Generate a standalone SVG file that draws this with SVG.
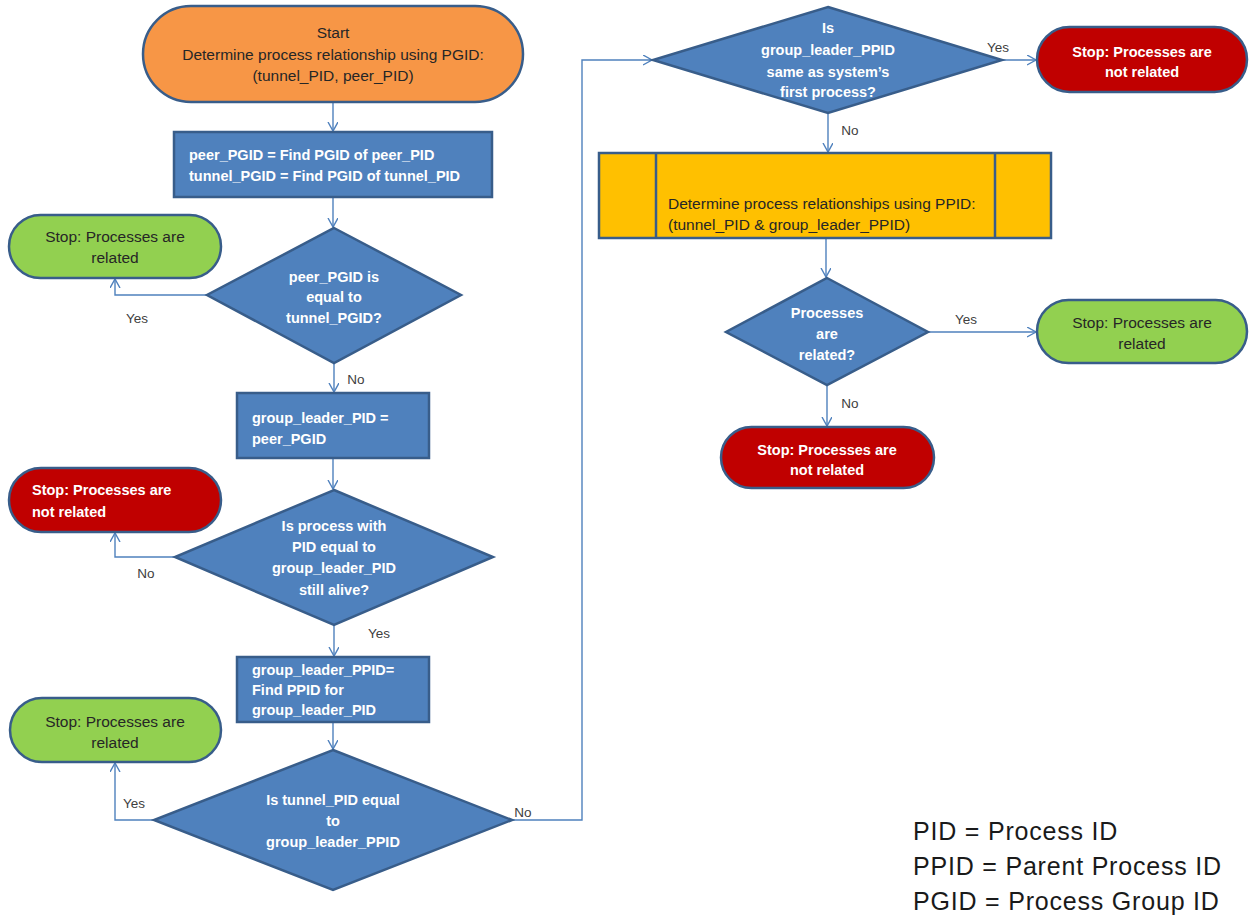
<svg xmlns="http://www.w3.org/2000/svg" width="1252" height="922" viewBox="0 0 1252 922">
<defs>
<marker id="arr" markerUnits="userSpaceOnUse" markerWidth="12" markerHeight="12" refX="9" refY="5" orient="auto">
<path d="M0,0 L9,5 L0,10" fill="none" stroke="#4F81BD" stroke-width="1.4"/>
</marker>
<style>
.blue{fill:#4F81BD;stroke:#385D8A;stroke-width:2.5}
.orange{fill:#F79646;stroke:#385D8A;stroke-width:2.5}
.green{fill:#92D050;stroke:#385D8A;stroke-width:2.5}
.red{fill:#C00000;stroke:#385D8A;stroke-width:2.5}
.yellow{fill:#FFC000;stroke:#385D8A;stroke-width:2.5}
.conn{fill:none;stroke:#4F81BD;stroke-width:1.4;marker-end:url(#arr)}
text{font-family:"Liberation Sans",Arial,sans-serif;font-size:14.5px}
.w{fill:#FFFFFF;font-weight:bold}
.d{fill:#262626;font-size:15.5px}
.c{text-anchor:middle}
.lbl{fill:#404040;font-size:13.5px;text-anchor:middle}
.leg{fill:#1A1A1A;font-size:25px;letter-spacing:0.8px}
</style>
</defs>

<g id="connectors">
<path class="conn" d="M333,102 L333,131"/>
<path class="conn" d="M333,197 L333,227"/>
<path class="conn" d="M207,295 L115,295 L115,279"/>
<path class="conn" d="M334,363 L334,392"/>
<path class="conn" d="M333,458 L333,489"/>
<path class="conn" d="M175,557 L115,557 L115,533"/>
<path class="conn" d="M334,625 L334,656"/>
<path class="conn" d="M333,722 L333,749"/>
<path class="conn" d="M154,820 L115,820 L115,763"/>
<path class="conn" d="M512,820 L582,820 L582,60 L652,60"/>
<path class="conn" d="M1002,60 L1036,60"/>
<path class="conn" d="M828,113 L828,152"/>
<path class="conn" d="M826,238 L826,277"/>
<path class="conn" d="M928,332 L1036,332"/>
<path class="conn" d="M827,385 L827,426"/>
<text class="lbl" x="137" y="323">Yes</text>
<text class="lbl" x="356" y="384">No</text>
<text class="lbl" x="146" y="578">No</text>
<text class="lbl" x="379" y="638">Yes</text>
<text class="lbl" x="134" y="808">Yes</text>
<text class="lbl" x="523" y="817">No</text>
<text class="lbl" x="998" y="52">Yes</text>
<text class="lbl" x="850" y="135">No</text>
<text class="lbl" x="966" y="324">Yes</text>
<text class="lbl" x="850" y="408">No</text>
</g>

<g id="start">
<rect class="orange" x="143" y="6" width="380" height="96" rx="48" ry="48"/>
<text class="d c" x="333" y="38">Start</text>
<text class="d c" x="333" y="60">Determine process relationship using PGID:</text>
<text class="d c" x="333" y="81">(tunnel_PID, peer_PID)</text>
</g>

<g id="find-pgid">
<rect class="blue" x="174" y="132" width="318" height="65"/>
<text class="w" x="189" y="160">peer_PGID = Find PGID of peer_PID</text>
<text class="w" x="189" y="181">tunnel_PGID = Find PGID of tunnel_PID</text>
</g>

<g id="pgid-equal">
<polygon class="blue" points="334,228 461,295 334,363 207,295"/>
<text class="w c" x="334" y="282">peer_PGID is</text>
<text class="w c" x="334" y="302">equal to</text>
<text class="w c" x="334" y="323">tunnel_PGID?</text>
</g>

<g id="stop-related-1">
<rect class="green" x="9" y="215" width="212" height="63" rx="31.5" ry="31.5"/>
<text class="d c" x="115" y="242">Stop: Processes are</text>
<text class="d c" x="115" y="263">related</text>
</g>

<g id="group-leader">
<rect class="blue" x="237" y="393" width="192" height="65"/>
<text class="w" x="252" y="423">group_leader_PID =</text>
<text class="w" x="252" y="444">peer_PGID</text>
</g>

<g id="alive">
<polygon class="blue" points="334,490 493,557 334,625 175,557"/>
<text class="w c" x="334" y="531">Is process with</text>
<text class="w c" x="334" y="552">PID  equal to</text>
<text class="w c" x="334" y="573">group_leader_PID</text>
<text class="w c" x="334" y="595">still alive?</text>
</g>

<g id="stop-not-related-1">
<rect class="red" x="9" y="468" width="212" height="64" rx="32" ry="32"/>
<text class="w" x="32" y="495">Stop: Processes are</text>
<text class="w" x="32" y="517">not related</text>
</g>

<g id="find-ppid">
<rect class="blue" x="237" y="657" width="192" height="65"/>
<text class="w" x="252" y="675">group_leader_PPID=</text>
<text class="w" x="252" y="695">Find PPID for</text>
<text class="w" x="252" y="715">group_leader_PID</text>
</g>

<g id="tunnel-equal">
<polygon class="blue" points="333,750 512,820 333,890 154,820"/>
<text class="w c" x="333" y="805">Is tunnel_PID equal</text>
<text class="w c" x="333" y="826">to</text>
<text class="w c" x="333" y="847">group_leader_PPID</text>
</g>

<g id="stop-related-2">
<rect class="green" x="10" y="698" width="211" height="64" rx="32" ry="32"/>
<text class="d c" x="115" y="727">Stop: Processes are</text>
<text class="d c" x="115" y="748">related</text>
</g>

<g id="first-process">
<polygon class="blue" points="828,7 1002,60 828,113 653,60"/>
<text class="w c" x="828" y="33">Is</text>
<text class="w c" x="828" y="55">group_leader_PPID</text>
<text class="w c" x="828" y="77">same as system’s</text>
<text class="w c" x="828" y="97">first process?</text>
</g>

<g id="stop-not-related-2">
<rect class="red" x="1037" y="27" width="210" height="65" rx="32.5" ry="32.5"/>
<text class="w c" x="1142" y="57">Stop: Processes are</text>
<text class="w c" x="1142" y="77">not related</text>
</g>

<g id="ppid-relationship">
<rect class="yellow" x="599" y="153" width="452" height="85"/>
<line x1="656" y1="153" x2="656" y2="238" stroke="#385D8A" stroke-width="2.5"/>
<line x1="995" y1="153" x2="995" y2="238" stroke="#385D8A" stroke-width="2.5"/>
<text class="d" x="668" y="209">Determine process relationships using PPID:</text>
<text class="d" x="668" y="230">(tunnel_PID &amp; group_leader_PPID)</text>
</g>

<g id="processes-related">
<polygon class="blue" points="827,278 928,332 827,385 726,332"/>
<text class="w c" x="827" y="318">Processes</text>
<text class="w c" x="827" y="339">are</text>
<text class="w c" x="827" y="360">related?</text>
</g>

<g id="stop-related-3">
<rect class="green" x="1037" y="300" width="210" height="63" rx="31.5" ry="31.5"/>
<text class="d c" x="1142" y="328">Stop: Processes are</text>
<text class="d c" x="1142" y="349">related</text>
</g>

<g id="stop-not-related-3">
<rect class="red" x="721" y="427" width="213" height="61" rx="30.5" ry="30.5"/>
<text class="w c" x="827" y="455">Stop: Processes are</text>
<text class="w c" x="827" y="475">not related</text>
</g>

<g id="legend">
<text class="leg" x="913" y="840">PID = Process ID</text>
<text class="leg" x="913" y="875">PPID = Parent Process ID</text>
<text class="leg" x="913" y="910">PGID = Process Group ID</text>
</g>
</svg>
